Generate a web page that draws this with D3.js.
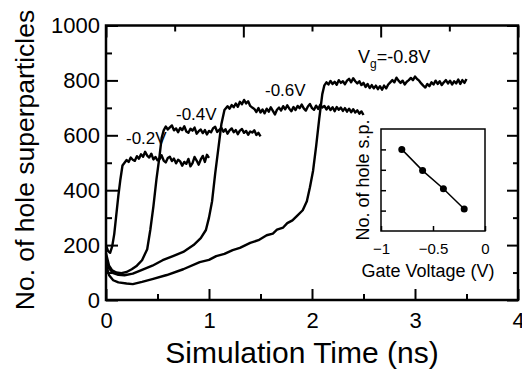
<!DOCTYPE html>
<html>
<head>
<meta charset="utf-8">
<script src="https://cdn.jsdelivr.net/npm/d3@7"></script>
<style>
  html, body { margin: 0; padding: 0; background: #fff; }
  text { font-family: "Liberation Sans", Arial, sans-serif; fill: #000; }
</style>
</head>
<body>
<div id="root"></div>
<script>
// ticks
var xMajor = [0, 1, 2, 3, 4]
var xMinor = [0.5, 1.5, 2.5, 3.5]
var yMajor = [0, 200, 400, 600, 800, 1000]
var yMinor = [100, 300, 500, 700, 900]
var topMajor = [0, 1, 2, 3]
var topMinor = [0.5, 1.5, 2.5]

// simulation curves [time (ns), no. of hole superparticles]
var curve02 = [[0,200],[0.02,178],[0.04,172],[0.06,195],[0.08,240],[0.10,310],[0.12,380],[0.14,440],[0.16,490],[0.18,500],
  [0.20,510],[0.22,503],[0.24,519],[0.26,511],[0.28,507],[0.30,524],[0.32,515],[0.34,531],[0.36,522],[0.38,540],
  [0.40,526],[0.42,519],[0.44,533],[0.46,512],[0.48,521],[0.50,509],[0.52,513],[0.54,527],[0.56,508],[0.58,501],
  [0.60,517],[0.62,522],[0.64,506],[0.66,515],[0.68,498],[0.70,511],[0.72,505],[0.74,489],[0.76,503],[0.78,496],
  [0.80,514],[0.82,487],[0.84,499],[0.86,521],[0.88,508],[0.90,493],[0.92,512],[0.94,525],[0.96,503],[0.98,529],[1.00,518]]

var curve04 = [[0,170],[0.03,125],[0.06,108],[0.10,100],[0.15,98],[0.20,102],[0.25,112],[0.30,125],[0.35,145],[0.40,185],
  [0.43,255],[0.46,340],[0.49,440],[0.52,525],[0.54,590],[0.56,618],
  [0.58,632],[0.60,621],[0.62,629],[0.64,636],[0.66,618],[0.68,625],[0.70,611],[0.72,627],[0.74,619],[0.76,633],
  [0.78,614],[0.80,609],[0.82,624],[0.84,617],[0.86,628],[0.88,606],[0.90,615],[0.92,621],[0.94,608],[0.96,619],
  [0.98,603],[1.00,616],[1.02,611],[1.04,626],[1.06,631],[1.08,612],[1.10,620],[1.12,627],[1.14,613],[1.16,622],
  [1.18,606],[1.20,618],[1.22,625],[1.24,611],[1.26,619],[1.28,604],[1.30,617],[1.32,623],[1.34,609],[1.36,616],
  [1.38,602],[1.40,614],[1.42,610],[1.44,618],[1.46,601],[1.48,609],[1.50,596]]

var curve06 = [[0,150],[0.03,115],[0.07,98],[0.12,92],[0.18,90],[0.26,96],[0.35,110],[0.45,125],[0.55,145],[0.65,160],
  [0.75,175],[0.85,200],[0.92,225],[0.97,255],[1.00,300],[1.03,360],[1.06,460],[1.09,550],[1.12,640],[1.15,692],
  [1.18,706],[1.20,697],[1.22,710],[1.24,702],[1.26,716],[1.28,704],[1.30,722],[1.32,713],[1.34,729],[1.36,716],
  [1.38,724],[1.40,707],[1.42,701],[1.44,696],[1.46,685],[1.48,699],[1.50,683],[1.52,694],[1.54,680],[1.56,697],
  [1.58,686],[1.60,702],[1.62,689],[1.64,676],[1.66,693],[1.68,701],[1.70,690],[1.72,706],[1.74,695],[1.76,709],
  [1.78,697],[1.80,688],[1.82,703],[1.84,692],[1.86,707],[1.88,699],[1.90,712],[1.92,698],[1.94,690],[1.96,705],
  [1.98,714],[2.00,699],[2.02,693],[2.04,708],[2.06,696],[2.08,711],[2.10,701],[2.12,707],[2.14,694],[2.16,705],
  [2.18,692],[2.20,702],[2.22,688],[2.24,703],[2.26,693],[2.28,701],[2.30,689],[2.32,699],[2.34,686],[2.36,697],
  [2.38,684],[2.40,695],[2.42,683],[2.44,691],[2.46,679],[2.48,687],[2.50,674]]

var curve08 = [[0,130],[0.03,90],[0.07,72],[0.12,64],[0.20,60],[0.26,58],[0.35,66],[0.45,76],[0.59,91],[0.75,112],
  [0.91,138],[1.00,146],[1.07,160],[1.15,168],[1.23,182],[1.30,190],[1.40,208],[1.48,218],[1.56,236],[1.62,242],
  [1.66,256],[1.72,264],[1.76,280],[1.81,290],[1.85,305],[1.91,327],[1.95,360],[1.98,411],[2.01,470],[2.04,560],
  [2.07,660],[2.10,750],[2.12,782],
  [2.14,793],[2.16,785],[2.18,798],[2.20,787],[2.22,795],[2.24,784],[2.26,801],[2.28,791],[2.30,797],[2.32,786],
  [2.34,799],[2.36,806],[2.38,793],[2.40,808],[2.42,797],[2.44,789],[2.46,797],[2.48,783],[2.50,791],[2.52,776],
  [2.54,787],[2.56,772],[2.58,783],[2.60,771],[2.62,781],[2.64,768],[2.66,779],[2.68,766],[2.70,781],[2.72,771],
  [2.74,785],[2.76,793],[2.78,801],[2.80,793],[2.82,810],[2.84,799],[2.86,791],[2.88,799],[2.90,785],[2.92,795],
  [2.94,801],[2.96,809],[2.98,801],[3.00,814],[3.02,805],[3.04,799],[3.06,789],[3.08,781],[3.10,774],[3.12,787],
  [3.14,779],[3.16,793],[3.18,785],[3.20,799],[3.22,787],[3.24,797],[3.26,783],[3.28,793],[3.30,801],[3.32,789],
  [3.34,799],[3.36,785],[3.38,797],[3.40,789],[3.42,803],[3.44,787],[3.46,801],[3.48,791],[3.50,805]]

// inset: plateau value vs gate voltage
var gateVoltage = [-0.8, -0.6, -0.4, -0.2]
var holeCount = [800, 696, 607, 508]
var insetXTicks = [-1, -0.5, 0]
var insetYTicks = [500, 600, 700, 800]

var W = 522, H = 373
var svg = d3.select('#root').append('svg')
    .attr('width', W)
    .attr('height', H)

var X = d3.scaleLinear().domain([0, 4]).range([106, 518])
var Y = d3.scaleLinear().domain([0, 1000]).range([300, 25.5])
var Xtop = d3.scaleLinear().domain([0, 3]).range([106, 518])

function styleAxis(g, size) {
    g.select('.domain').remove()
    g.selectAll('line').attr('stroke', '#000').attr('stroke-width', 2)
    g.selectAll('text').style('font-size', size + 'px').attr('fill', '#000')
        .style('font-family', '"Liberation Sans", Arial, sans-serif')
}

// curves
var line = d3.line().x(function (d) { return X(d[0]) }).y(function (d) { return Y(d[1]) })
svg.append('g').selectAll('path')
    .data([curve02, curve04, curve06, curve08])
    .enter().append('path')
    .attr('d', line)
    .attr('fill', 'none')
    .attr('stroke', '#000')
    .attr('stroke-width', 2.4)
    .attr('stroke-linejoin', 'round')

// axes (ticks pointing inward)
var gB = svg.append('g').attr('transform', 'translate(0,300)')
gB.call(d3.axisBottom(X).tickValues(xMajor).tickSize(-11).tickPadding(12).tickFormat(d3.format('d')))
styleAxis(gB, 22)
var gBm = svg.append('g').attr('transform', 'translate(0,300)')
gBm.call(d3.axisBottom(X).tickValues(xMinor).tickSize(-6).tickFormat(''))
styleAxis(gBm, 22)

var gL = svg.append('g').attr('transform', 'translate(106,0)')
gL.call(d3.axisLeft(Y).tickValues(yMajor).tickSize(-12).tickPadding(6).tickFormat(d3.format('d')))
styleAxis(gL, 22)
var gLm = svg.append('g').attr('transform', 'translate(106,0)')
gLm.call(d3.axisLeft(Y).tickValues(yMinor).tickSize(-6).tickFormat(''))
styleAxis(gLm, 22)

var gR = svg.append('g').attr('transform', 'translate(518,0)')
gR.call(d3.axisRight(Y).tickValues(yMajor).tickSize(-11).tickFormat(''))
styleAxis(gR, 22)
var gRm = svg.append('g').attr('transform', 'translate(518,0)')
gRm.call(d3.axisRight(Y).tickValues(yMinor).tickSize(-5).tickFormat(''))
styleAxis(gRm, 22)

var gT = svg.append('g').attr('transform', 'translate(0,25.5)')
gT.call(d3.axisTop(Xtop).tickValues(topMajor).tickSize(-12).tickFormat(''))
styleAxis(gT, 22)
var gTm = svg.append('g').attr('transform', 'translate(0,25.5)')
gTm.call(d3.axisTop(Xtop).tickValues(topMinor).tickSize(-6).tickFormat(''))
styleAxis(gTm, 22)

// frame
svg.append('rect')
    .attr('x', X(0)).attr('y', Y(1000))
    .attr('width', X(4) - X(0)).attr('height', Y(0) - Y(1000))
    .attr('fill', 'none').attr('stroke', '#000').attr('stroke-width', 2.5)

// axis titles
svg.append('text')
    .attr('x', 302).attr('y', 363)
    .attr('text-anchor', 'middle')
    .style('font-size', '30px')
    .text('Simulation Time (ns)')
svg.append('text')
    .attr('transform', 'translate(34,160) rotate(-90)')
    .attr('text-anchor', 'middle')
    .style('font-size', '26.5px')
    .text('No. of hole superparticles')

// curve labels
var ann = svg.append('g').style('font-size', '17px')
ann.append('text').attr('x', 126).attr('y', 144).text('-0.2V')
ann.append('text').attr('x', 176).attr('y', 120).text('-0.4V')
ann.append('text').attr('x', 265).attr('y', 96).text('-0.6V')
var vg = ann.append('text').attr('x', 358).attr('y', 63).style('font-size', '18px')
vg.append('tspan').text('V')
vg.append('tspan').attr('dy', 5).style('font-size', '12px').text('g')
vg.append('tspan').attr('dy', -5).text('=-0.8V')

// inset
var iX = d3.scaleLinear().domain([-1, 0]).range([381, 485])
var iY = d3.scaleLinear().domain([400, 900]).range([231, 129])
var inset = svg.append('g')
inset.append('rect')
    .attr('x', iX(-1)).attr('y', iY(900))
    .attr('width', iX(0) - iX(-1)).attr('height', iY(400) - iY(900))
    .attr('fill', '#fff').attr('stroke', '#000').attr('stroke-width', 1.5)

var giB = inset.append('g').attr('transform', 'translate(0,' + iY(400) + ')')
giB.call(d3.axisBottom(iX).tickValues(insetXTicks).tickSize(-5).tickPadding(12).tickFormat(d3.format('')))
styleAxis(giB, 15)
giB.selectAll('line').attr('stroke-width', 1.5)
var giL = inset.append('g').attr('transform', 'translate(' + iX(-1) + ',0)')
giL.call(d3.axisLeft(iY).tickValues(insetYTicks).tickSize(-5).tickFormat(''))
styleAxis(giL, 15)
giL.selectAll('line').attr('stroke-width', 1.5)

var pts = gateVoltage.map(function (v, i) { return [v, holeCount[i]] })
inset.append('path')
    .attr('d', d3.line().x(function (d) { return iX(d[0]) }).y(function (d) { return iY(d[1]) })(pts))
    .attr('fill', 'none').attr('stroke', '#000').attr('stroke-width', 1.5)
inset.selectAll('circle').data(pts).enter().append('circle')
    .attr('cx', function (d) { return iX(d[0]) })
    .attr('cy', function (d) { return iY(d[1]) })
    .attr('r', 3.5).attr('fill', '#000')

inset.append('text')
    .attr('x', 428).attr('y', 277)
    .attr('text-anchor', 'middle')
    .style('font-size', '18px')
    .text('Gate Voltage (V)')
inset.append('text')
    .attr('transform', 'translate(369,180) rotate(-90)')
    .attr('text-anchor', 'middle')
    .style('font-size', '18px')
    .text('No. of hole s.p.')
</script>
</body>
</html>
